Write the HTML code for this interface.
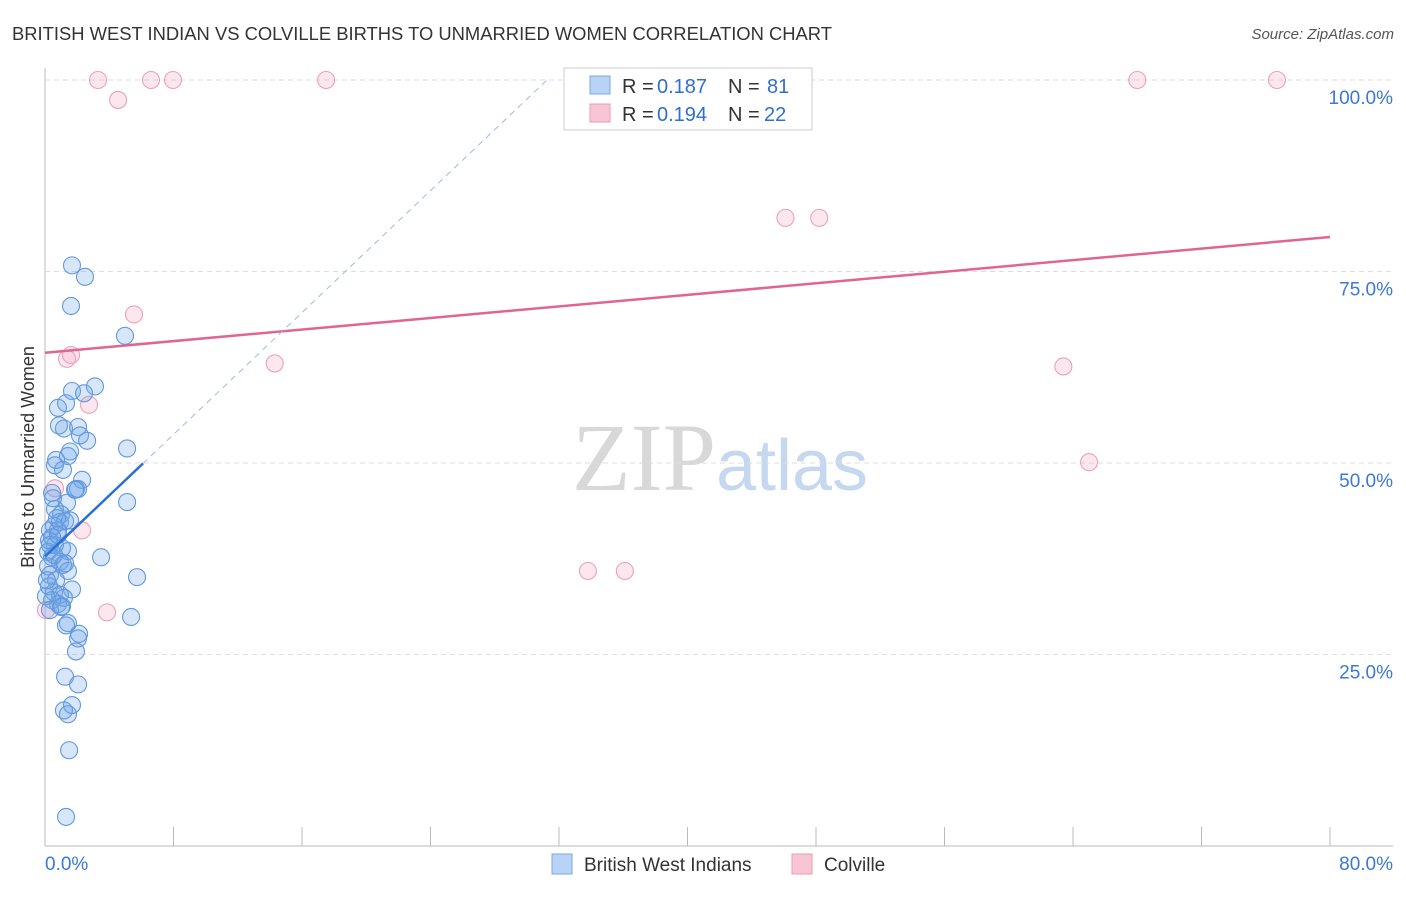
<!DOCTYPE html>
<html><head><meta charset="utf-8"><style>
body{margin:0;background:#fff;font-family:"Liberation Sans",sans-serif;}
svg text{font-family:"Liberation Sans",sans-serif;}
</style></head><body>
<svg id="chart" width="1406" height="892" xmlns="http://www.w3.org/2000/svg">
<text x="12" y="40" font-size="18" fill="#333" textLength="820" lengthAdjust="spacingAndGlyphs">BRITISH WEST INDIAN VS COLVILLE BIRTHS TO UNMARRIED WOMEN CORRELATION CHART</text>
<text x="1394" y="39" font-size="15" fill="#555" font-style="italic" text-anchor="end">Source: ZipAtlas.com</text>
<text x="720" y="490" font-size="96" text-anchor="middle"><tspan fill="#d8d8d8" font-family="Liberation Serif">ZIP</tspan><tspan fill="#c5d8f0" font-size="72">atlas</tspan></text>
<text transform="translate(34,457) rotate(-90)" font-size="18" fill="#333" text-anchor="middle">Births to Unmarried Women</text>
<g id="grid"></g><g id="pts"></g><g id="lines"></g>
<g>
<rect x="564" y="68" width="248" height="62" fill="#fff" stroke="#ccc"/>
<rect x="590" y="76" width="20" height="18" fill="#b8d3f5" stroke="#7aa8e0"/>
<rect x="590" y="104" width="20" height="18" fill="#f9c5d5" stroke="#e89ab5"/>
<text x="622" y="93" font-size="20" fill="#333">R =</text><text x="657" y="93" font-size="20" fill="#2f6fd0">0.187</text>
<text x="728" y="93" font-size="20" fill="#333">N =</text><text x="767" y="93" font-size="20" fill="#2f6fd0">81</text>
<text x="622" y="121" font-size="20" fill="#333">R =</text><text x="657" y="121" font-size="20" fill="#2f6fd0">0.194</text>
<text x="728" y="121" font-size="20" fill="#333">N =</text><text x="764" y="121" font-size="20" fill="#2f6fd0">22</text>
</g>
<g>
<rect x="552" y="854" width="20" height="20" fill="#b8d3f5" stroke="#7aa8e0"/>
<text x="584" y="871" font-size="19" fill="#333">British West Indians</text>
<rect x="792" y="854" width="20" height="20" fill="#f9c5d5" stroke="#e89ab5"/>
<text x="824" y="871" font-size="19" fill="#333">Colville</text>
</g>
</svg>
<script>
const blueX=[1.68,2.49,1.62,4.98,3.11,1.68,2.43,0.81,1.31,1.18,2.06,2.18,2.62,1.56,0.69,1.43,5.11,0.62,2.31,1.93,2.06,0.44,1.37,5.11,0.62,1.00,0.93,1.25,0.56,0.31,0.81,0.44,0.62,1.43,1.06,3.49,0.19,0.44,0.93,1.12,1.43,0.31,0.69,5.73,0.25,1.68,0.56,0.93,1.18,0.81,1.06,0.44,5.36,1.43,1.31,2.12,2.06,1.93,1.25,2.06,1.68,1.18,1.43,1.50,1.31,0.25,0.19,0.31,0.75,0.50,0.12,0.06,1.87,1.12,0.81,0.56,1.25,1.56,0.31,0.87,1.00];
const blueY=[75.8,74.3,70.5,66.6,60.0,59.4,59.1,57.2,57.8,54.5,54.7,53.6,52.9,51.5,50.4,50.9,51.9,49.7,47.8,46.6,46.6,46.1,44.8,44.9,44.0,43.3,42.3,42.4,41.8,41.2,41.2,40.3,39.3,38.5,38.9,37.7,38.4,37.7,37.1,36.7,35.9,35.4,34.7,35.1,33.9,33.5,33.1,32.8,32.4,31.6,31.3,32.1,29.9,29.1,28.8,27.7,27.1,25.4,22.1,21.1,18.4,17.7,17.2,12.5,3.8,39.9,36.5,39.3,42.8,45.4,34.7,32.6,46.5,49.1,40.6,38.0,36.9,42.5,30.8,54.9,31.2];
const pinkX=[3.30,6.60,7.97,17.5,68.0,76.7,4.55,46.1,48.2,5.54,1.62,1.37,14.3,63.4,2.74,65.0,2.31,33.8,36.1,3.86,0.62,0.06];
const pinkY=[100,100,100,100,100,100,97.4,82.0,82.0,69.4,64.1,63.6,63.0,62.6,57.6,50.1,41.2,35.9,35.9,30.5,46.7,30.8];
const yTicks=[25,50,75,100];
const yTickLabels=["25.0%","50.0%","75.0%","100.0%"];
const xTicks=[0,8,16,24,32,40,48,56,64,72,80];
const pinkTrend=[64.4,79.5];
const blueTrend=[37.8,1.99];
const X0=45,X1=1330,Y0=846,Y100=80;
const sx=v=>X0+v/80*(X1-X0), sy=v=>Y0-v/100*(Y0-Y100);
const NS="http://www.w3.org/2000/svg";
function mk(t,a,p){const e=document.createElementNS(NS,t);for(const k in a)e.setAttribute(k,a[k]);p.appendChild(e);return e;}
const g=document.getElementById('grid');
const ax=mk('line',{x1:X0,y1:68,x2:X0,y2:Y0,stroke:'#bbb'},g);


const bx=mk('line',{x1:X0,y1:Y0,x2:1393,y2:Y0,stroke:'#bbb'},g);


yTicks.forEach((v,i)=>{
 const l=mk('line',{x1:X0,y1:sy(v),x2:1393,y2:sy(v),stroke:'#ddd','stroke-dasharray':'5,4'},g);
 
 
 const t=mk('text',{x:1393,y:sy(v)+24,'font-size':19,fill:'#3b78d8','text-anchor':'end'},g);
 t.textContent=yTickLabels[i];
 
 
});
xTicks.forEach(v=>{
 const l=mk('line',{x1:sx(v),y1:827,x2:sx(v),y2:Y0,stroke:'#bbb'},g);
 
 
});
const xl0=mk('text',{x:45,y:870,'font-size':19,fill:'#3b78d8'},g);xl0.textContent='0.0%';


const xl1=mk('text',{x:1393,y:870,'font-size':19,fill:'#3b78d8','text-anchor':'end'},g);xl1.textContent='80.0%';


const p=document.getElementById('pts');
pinkX.forEach((v,i)=>{
 const c=mk('circle',{cx:sx(v),cy:sy(pinkY[i]),r:8.5,fill:'rgba(245,160,190,0.25)',stroke:'#eba0ba','stroke-width':1.1},p);
 
 
});
blueX.forEach((v,i)=>{
 const c=mk('circle',{cx:sx(v),cy:sy(blueY[i]),r:8.5,fill:'rgba(110,165,235,0.28)',stroke:'#6298dd','stroke-width':1.1},p);
 
 
});
const L=document.getElementById('lines');
const pl=mk('line',{x1:sx(0),y1:sy(pinkTrend[0]),x2:sx(80),y2:sy(pinkTrend[1]),stroke:'#e06592','stroke-width':2.5},L);


const bEnd=6.1, bTop=(100-blueTrend[0])/blueTrend[1];
const bl=mk('line',{x1:sx(0),y1:sy(blueTrend[0]),x2:sx(bEnd),y2:sy(blueTrend[0]+blueTrend[1]*bEnd),stroke:'#2a6fd6','stroke-width':2.5},L);


const bd=mk('line',{x1:sx(bEnd),y1:sy(blueTrend[0]+blueTrend[1]*bEnd),x2:sx(bTop),y2:sy(100),stroke:'#9bbbe5','stroke-width':1,'stroke-dasharray':'6,5'},L);


</script>
</body></html>
